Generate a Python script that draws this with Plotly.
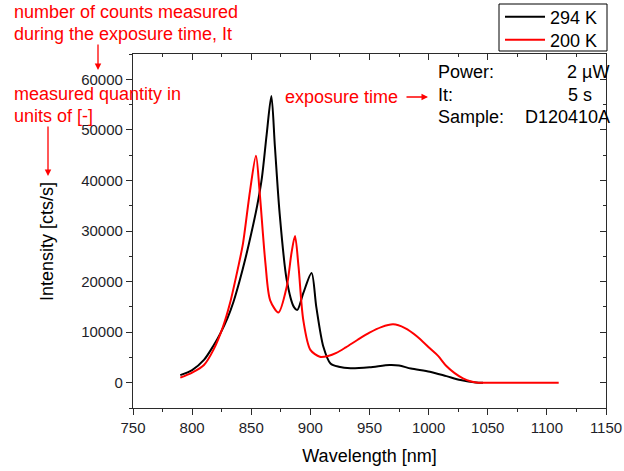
import plotly.graph_objects as go

# ---- data ----
wl_294 = [790, 800, 810, 818, 824, 830, 835, 840, 845, 850, 855, 859, 863, 867, 870, 874, 880,
          886, 889, 894, 901, 905, 911, 917, 924, 934, 950, 967, 975, 985, 1001, 1015,
          1027, 1040, 1046]
int_294 = [1500, 2500, 4500, 7300, 9800, 12800, 16000, 20000, 24500, 29500, 35000, 40500, 49000,
           56700, 46700, 33500, 20300, 15000, 14400, 17700, 21700, 15000, 7100, 3800, 3150,
           2850, 3050, 3500, 3400, 2800, 2170, 1300, 530, 50, 0]

wl_200 = [790, 800, 810, 818, 826, 832, 839, 843, 849, 854, 857, 862, 866, 873, 880, 884,
          887, 890, 894, 900, 908, 915, 922, 930, 940, 950, 960, 970, 980, 990, 1001, 1008,
          1015, 1022, 1029, 1036, 1042, 1060, 1080, 1100, 1110]
int_200 = [1000, 2000, 3500, 6500, 11000, 15700, 22900, 27500, 38000, 44900, 38000, 23600,
           16300, 13900, 19000, 25600, 29000, 22900, 12400, 6500, 5140, 5300, 5900, 7000,
           8500, 9900, 11000, 11540, 10800, 9200, 6800, 5300, 3300, 1900, 870, 250, 0,
           0, 0, 0, 0]

series_names = ["294 K", "200 K"]
x_ticks = list(range(750, 1151, 50))
y_ticks = list(range(0, 60001, 10000))

# ---- layout geometry (pixels) ----
W, H = 624, 471
L, R, T, B = 133, 18, 54, 63
PW, PH = W - L - R, H - T - B


def px(x):
    return (x - L) / PW


def py(y):
    return (H - B - y) / PH


FONT = "Liberation Sans, Arial, sans-serif"
AX = "#2b2b2b"

fig = go.Figure()
fig.add_trace(go.Scatter(x=wl_294, y=int_294, name=series_names[0], mode="lines", legend="legend",
                         line=dict(color="black", width=2, shape="spline", smoothing=0.8)))
fig.add_trace(go.Scatter(x=wl_200, y=int_200, name=series_names[1], mode="lines", legend="legend2",
                         line=dict(color="#ff0000", width=2, shape="spline", smoothing=0.8)))
fig.add_trace(go.Scatter(x=[None], y=[None], xaxis="x2", yaxis="y2", showlegend=False,
                         hoverinfo="skip"))

axis_common = dict(showline=True, linecolor=AX, linewidth=1.3, showgrid=False, zeroline=False,
                   tickcolor=AX, tickwidth=1, tickfont=dict(family=FONT, size=15, color="#1e1e28"))

legend_common = dict(xref="container", yref="container", xanchor="left", yanchor="middle",
                     bgcolor="rgba(0,0,0,0)", borderwidth=0, font=dict(family=FONT, size=18),
                     itemwidth=40, tracegroupgap=0)

fig.update_layout(
    width=W, height=H,
    margin=dict(l=L, r=R, t=T, b=B, pad=0, autoexpand=False),
    paper_bgcolor="white", plot_bgcolor="white",
    font=dict(family=FONT, color="black"),
    xaxis=dict(range=[750, 1150], tickvals=x_ticks, ticktext=[str(v) for v in x_ticks],
               ticks="outside", ticklen=6,
               minor=dict(dtick=25, tick0=750, ticks="outside", ticklen=3, tickcolor=AX),
               title=dict(text="Wavelength [nm]", font=dict(family=FONT, size=18), standoff=14),
               **axis_common),
    yaxis=dict(range=[-5000, 65000], tickvals=y_ticks, ticktext=[str(v) for v in y_ticks],
               ticks="outside", ticklen=6,
               minor=dict(dtick=5000, tick0=0, ticks="outside", ticklen=3, tickcolor=AX),
               **axis_common),
    xaxis2=dict(range=[750, 1150], overlaying="x", side="top", anchor="y", tickvals=x_ticks,
                ticks="inside", ticklen=6, showticklabels=False,
                minor=dict(dtick=25, tick0=750, ticks="inside", ticklen=3, tickcolor=AX),
                **axis_common),
    yaxis2=dict(range=[-5000, 65000], overlaying="y", side="right", anchor="x", tickvals=y_ticks,
                ticks="inside", ticklen=6, showticklabels=False,
                minor=dict(dtick=5000, tick0=0, ticks="inside", ticklen=3, tickcolor=AX),
                **axis_common),
    legend=dict(x=500 / W, y=1 - 17 / H, **legend_common),
    legend2=dict(x=500 / W, y=1 - 40 / H, **legend_common),
    shapes=[dict(type="rect", xref="paper", yref="paper", x0=px(499), x1=px(607),
                 y0=py(51), y1=py(4), line=dict(color="black", width=1), layer="above")],
    showlegend=True,
)

ann = []
RED = "#ff0000"


def text(t, x, y, color="black", xanchor="left", angle=0):
    ann.append(dict(text=t, x=px(x), y=py(y), xref="paper", yref="paper", xanchor=xanchor,
                    yanchor="middle", showarrow=False, textangle=angle,
                    font=dict(family=FONT, size=18, color=color)))


def arrow(x0, y0, x1, y1):
    ann.append(dict(text="", x=px(x1), y=py(y1), xref="paper", yref="paper", showarrow=True,
                    ax=x0 - x1, ay=y0 - y1, arrowhead=2, arrowsize=1, arrowwidth=1.3,
                    arrowcolor=RED, standoff=0, startstandoff=0))


text("Intensity [cts/s]", 47, 242, xanchor="center", angle=-90)

text("number of counts measured", 12, 12, RED)
text("during the exposure time, It", 12, 34, RED)
arrow(98, 43, 98, 70)
text("measured quantity in", 12, 94, RED)
text("units of [-]", 12, 116, RED)
arrow(48, 125, 48, 176)
text("exposure time", 283, 97, RED)
arrow(405, 97, 428, 97)

text("Power:", 436, 72)
text("It:", 436, 95)
text("Sample:", 436, 117)
text("2 µW", 565, 72)
text("5 s", 566, 95)
text("D120410A", 523, 117)

fig.update_layout(annotations=ann)
fig.write_html("out.html")
